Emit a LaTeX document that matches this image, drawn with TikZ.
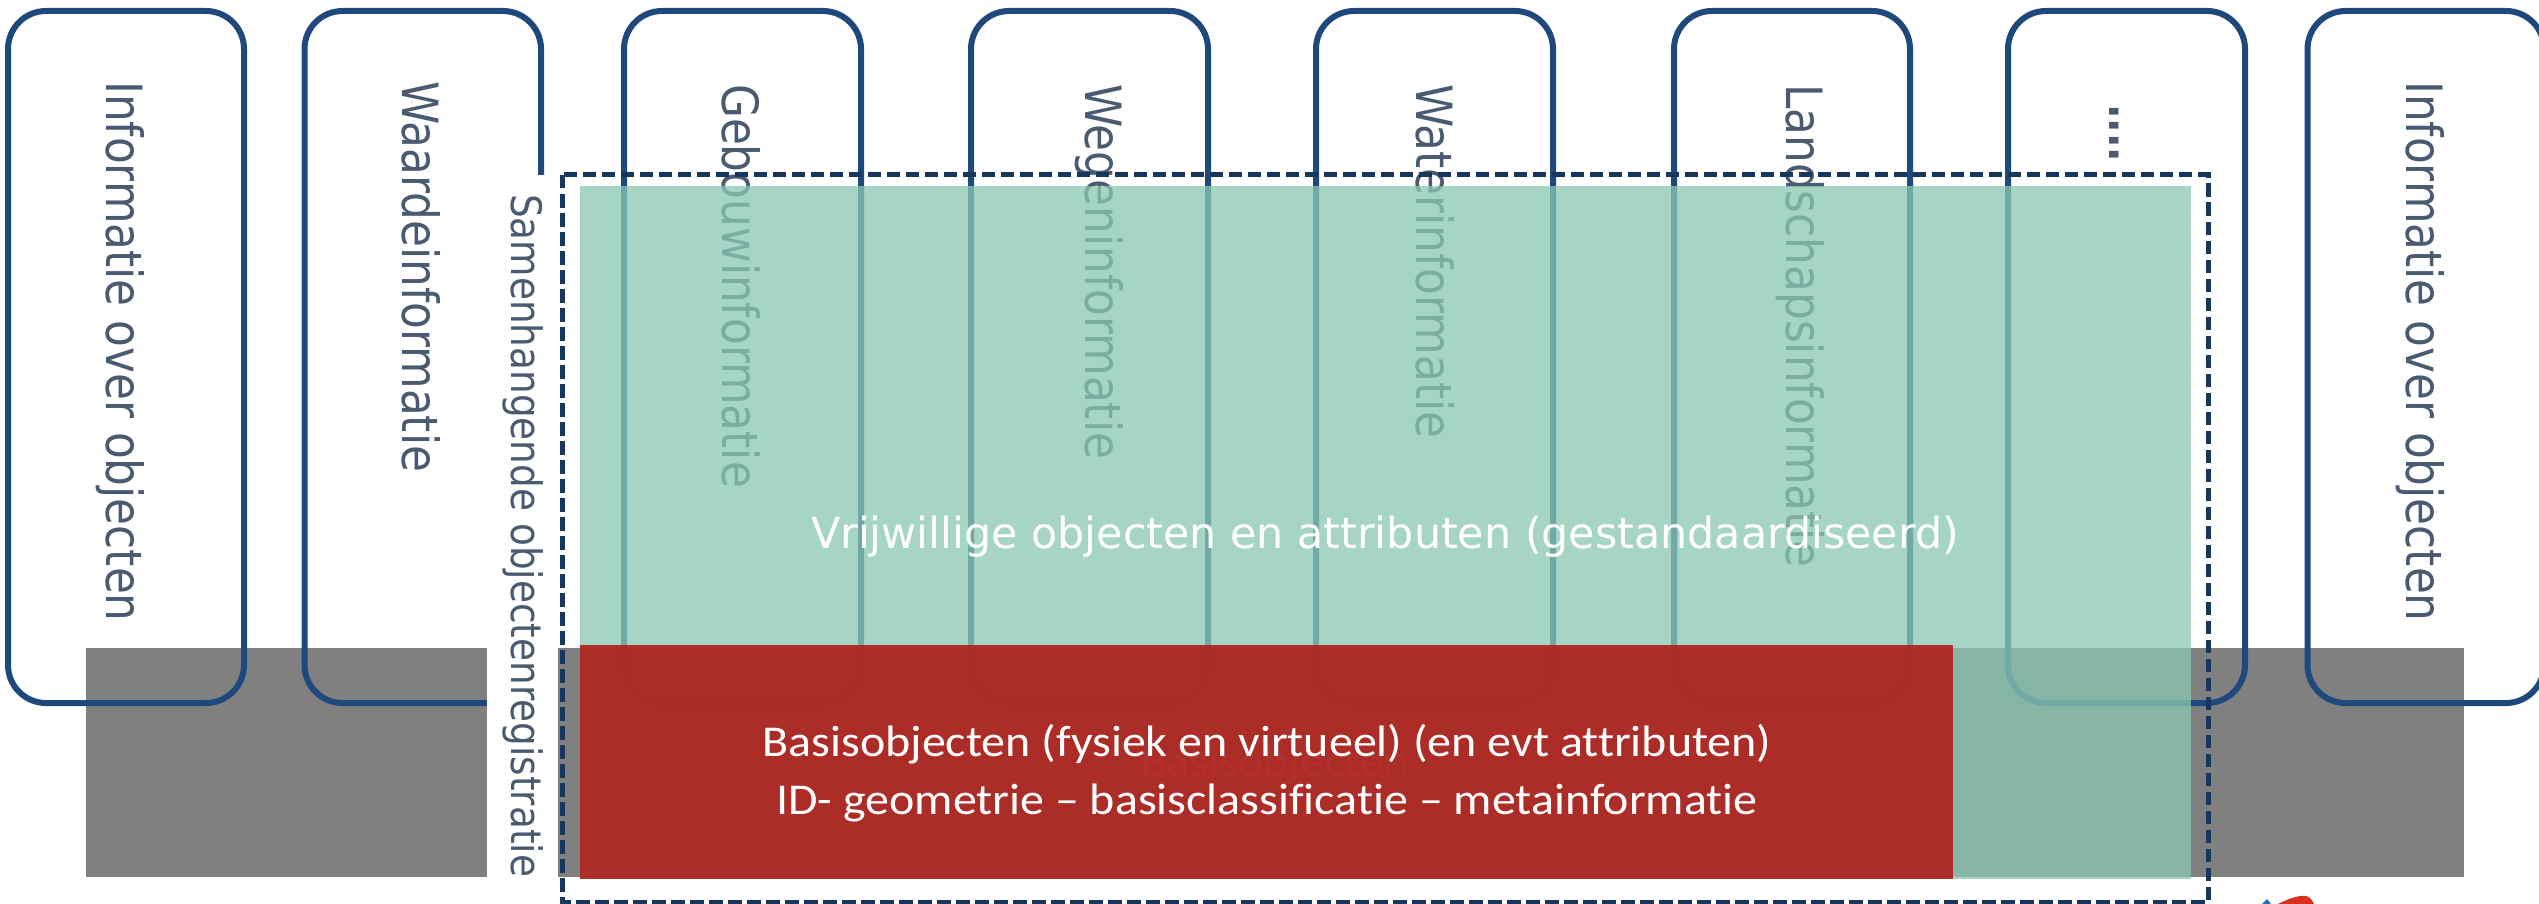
\documentclass[tikz,border=0pt]{standalone}
\usepackage{fontspec}
\usepackage{xcolor}
\setmainfont{DejaVu Sans}
\newfontfamily\basisfont[Ligatures=NoCommon]{Carlito}
\definecolor{boxblue}{HTML}{1F497D}
\definecolor{dashblue}{HTML}{17375E}
\definecolor{labelgray}{HTML}{4A5A70}
\definecolor{basisred}{RGB}{177,30,26}
\definecolor{vrijgreen}{RGB}{139,200,178}
\definecolor{logored}{HTML}{D9301F}
\definecolor{logoblue}{HTML}{1F6FB0}
\tikzstyle{kolom} = [draw=boxblue,line width=6pt,rounded corners=38pt]
\tikzstyle{kolomtext} = [rotate=-90,anchor=west,inner sep=0pt,text=labelgray,font=\fontsize{50}{50}\selectfont,xscale=0.875,transform shape]
\tikzstyle{basistext} = [text=white,align=center,font=\fontsize{44}{58}\selectfont\basisfont,xscale=1.09,transform shape]
\tikzstyle{vlak} = [inner sep=0pt,outer sep=0pt,anchor=north west]

\begin{document}
\begin{tikzpicture}[x=1pt,y=-1pt]
        \useasboundingbox (0,0) rectangle (2539,904);
        % grijze balk
        \node[vlak, fill=black!50, minimum width=2378pt, minimum height=229pt] at (86,648) (balk) {};

        % kolommen
        \draw[kolom] (8,11) rectangle (244,703);
        \draw[kolom] (304.5,11) rectangle (541,703);
        \draw[kolom] (624,11) rectangle (861,703);
        \draw[kolom] (971,11) rectangle (1208,703);
        \draw[kolom] (1316,11) rectangle (1553,703);
        \draw[kolom] (1674,11) rectangle (1910,703);
        \draw[kolom] (2008,11) rectangle (2245,703);
        \draw[kolom] (2307.5,11) rectangle (2544,703);

        \node[kolomtext] at (120,81) (info1) {Informatie over objecten};
        \node[kolomtext] at (421,81) (waarde) {Waardeinformatie};
        \node[kolomtext] at (741,84) (gebouw) {Gebouwinformatie};
        \node[kolomtext] at (1099,84) (wegen) {Wegeninformatie};
        \node[kolomtext] at (1435,84) (water) {Waterinformatie};
        \node[kolomtext] at (1800,84) (landschap) {Landschapsinformatie};
        \node[kolomtext, font=\fontsize{50}{50}\selectfont\bfseries, xscale=0.87] at (2114,104) (meer) {....};
        \node[kolomtext] at (2420,81) (info2) {Informatie over objecten};

        % witte strook met samenhangende objecten
        \node[vlak, fill=white, minimum width=71pt, minimum height=725pt] at (487,175) (strook) {};
        \node[kolomtext, font=\fontsize{42}{42}\selectfont, xscale=1.017] at (523,194) (samen) {Samenhangende objectenregistratie};

        % vlakken
        \node[vlak, fill=vrijgreen, fill opacity=0.756, minimum width=1611pt, minimum height=693pt] at (580,186) (vrij) {};
        \node[text=white, font=\fontsize{42.8}{42.8}\selectfont] at (1385,537) (vrijtext) {Vrijwillige objecten en attributen (gestandaardiseerd)};
        \node[basistext, text opacity=0.5] at (1275,765) (balktext) {Basisobjecten};
        \node[vlak, fill=basisred, fill opacity=0.9, minimum width=1373pt, minimum height=234pt] at (580,645) (basis) {};
        \node[basistext] at (1267,773) (basislabel) {Basisobjecten (fysiek en virtueel) (en evt attributen)\\ID- geometrie – basisclassificatie – metainformatie};

        \draw[dashblue, line width=5pt, dash pattern=on 13.5pt off 5.5pt] (562,175) rectangle (2208,902);

        % stukje logo onderaan
        \fill[logored] (2278,904) .. controls (2288,899) and (2298,895) .. (2306,896) .. controls (2310,897) and (2312,900) .. (2314,904) -- cycle;
        \fill[logoblue] (2262,904) -- (2267,899) -- (2271,904) -- cycle;
\end{tikzpicture}
\end{document}
